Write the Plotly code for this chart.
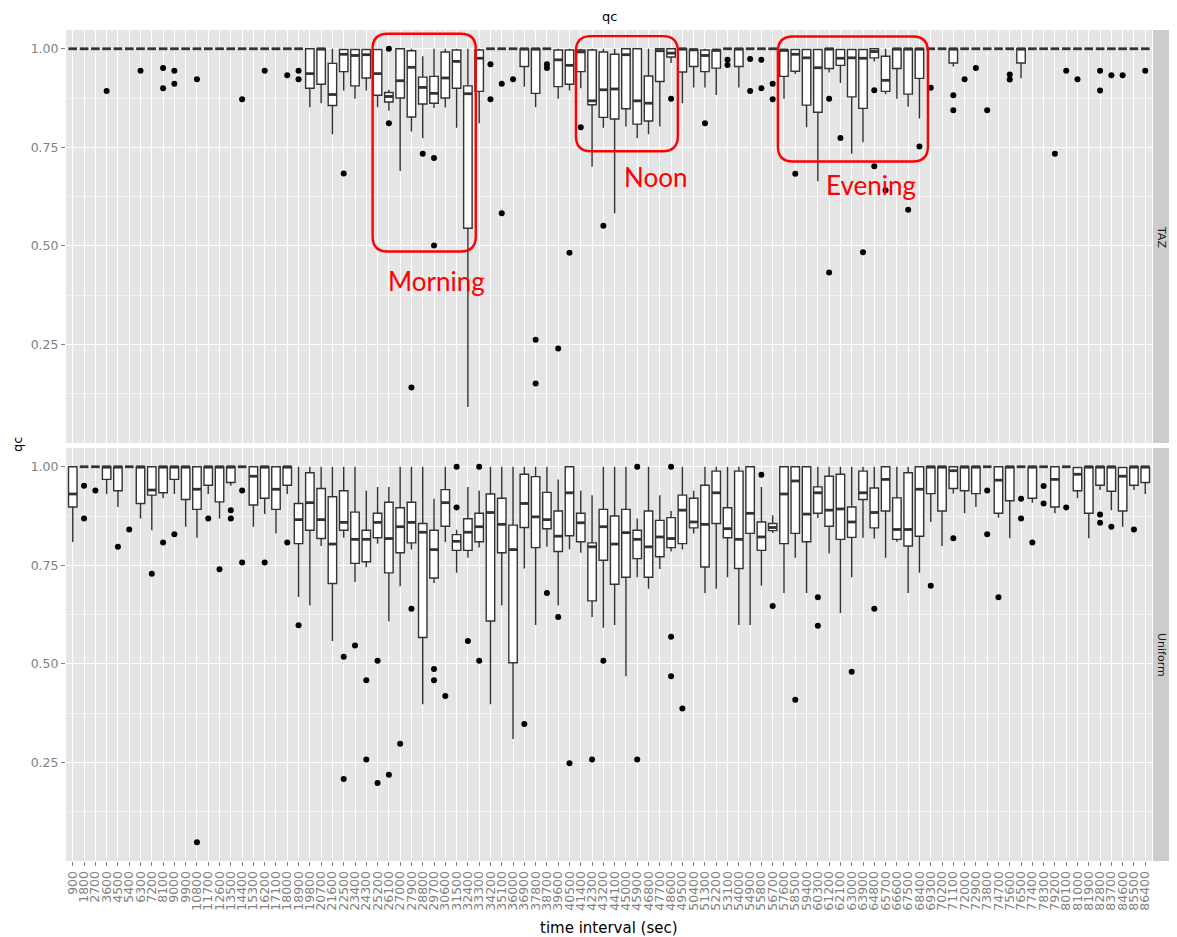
import plotly.graph_objects as go

# ---------------- data ----------------
time_labels = ["900", "1800", "2700", "3600", "4500", "5400", "6300", "7200", "8100", "9000", "9900", "10800",
               "11700", "12600", "13500", "14400", "15300", "16200", "17100", "18000", "18900", "19800", "20700", "21600",
               "22500", "23400", "24300", "25200", "26100", "27000", "27900", "28800", "29700", "30600", "31500", "32400",
               "33300", "34200", "35100", "36000", "36900", "37800", "38700", "39600", "40500", "41400", "42300", "43200",
               "44100", "45000", "45900", "46800", "47700", "48600", "49500", "50400", "51300", "52200", "53100", "54000",
               "54900", "55800", "56700", "57600", "58500", "59400", "60300", "61200", "62100", "63000", "63900", "64800",
               "65700", "66600", "67500", "68400", "69300", "70200", "71100", "72000", "72900", "73800", "74700", "75600",
               "76500", "77400", "78300", "79200", "80100", "81000", "81900", "82800", "83700", "84600", "85500", "86400"]

# ---- TAZ panel (box statistics per time interval) ----
taz_q1 = [1, 1, 1, 1, 1, 1, 1, 1, 1, 1, 1, 1,
          1, 1, 1, 1, 1, 1, 1, 1, 1, 0.900, 0.910, 0.856,
          0.942, 0.906, 0.926, 0.882, 0.865, 0.875, 0.827, 0.860, 0.862, 0.875, 0.900, 0.545,
          0.892, 1, 1, 1, 0.955, 0.887, 1, 0.904, 0.910, 0.942, 0.858, 0.826,
          0.822, 0.848, 0.809, 0.817, 0.917, 0.979, 0.941, 0.955, 0.942, 0.951, 1, 0.955,
          1, 1, 1, 0.930, 0.943, 0.857, 0.839, 0.950, 0.958, 0.878, 0.849, 0.977,
          0.892, 0.950, 0.885, 0.925, 1, 1, 0.964, 1, 1, 1, 1, 1,
          0.964, 1, 1, 1, 1, 1, 1, 1, 1, 1, 1, 1]
taz_med = [1, 1, 1, 1, 1, 1, 1, 1, 1, 1, 1, 1,
           1, 1, 1, 1, 1, 1, 1, 1, 1, 0.937, 1.0, 0.884,
           0.986, 0.983, 0.985, 0.937, 0.879, 0.919, 0.953, 0.902, 0.887, 0.926, 0.968, 0.886,
           0.976, 1, 1, 1, 1, 1, 1, 0.972, 0.958, 0.992, 0.868, 0.896,
           0.898, 0.985, 0.868, 0.862, 0.995, 0.989, 1, 0.998, 0.983, 0.997, 1, 1,
           1, 1, 1, 0.997, 0.986, 0.977, 0.952, 1, 0.976, 0.977, 0.976, 0.993,
           0.920, 1, 1, 1, 1, 1, 1, 1, 1, 1, 1, 1,
           1, 1, 1, 1, 1, 1, 1, 1, 1, 1, 1, 1]
taz_q3 = [1, 1, 1, 1, 1, 1, 1, 1, 1, 1, 1, 1,
          1, 1, 1, 1, 1, 1, 1, 1, 1, 1.0, 1.0, 0.963,
          0.998, 0.998, 0.998, 0.998, 0.889, 1.0, 0.995, 0.928, 0.930, 0.992, 0.997, 0.906,
          0.997, 1, 1, 1, 1, 1, 1, 0.997, 0.997, 0.997, 0.997, 0.992,
          0.986, 1, 1, 0.931, 1, 1, 1, 0.998, 0.997, 0.997, 1, 1,
          1, 1, 1, 0.997, 0.998, 0.998, 0.998, 1, 0.998, 0.998, 0.998, 1,
          0.981, 1, 1, 1, 1, 1, 1, 1, 1, 1, 1, 1,
          1, 1, 1, 1, 1, 1, 1, 1, 1, 1, 1, 1]
taz_lo = [1, 1, 1, 1, 1, 1, 1, 1, 1, 1, 1, 1,
          1, 1, 1, 1, 1, 1, 1, 1, 1, 0.852, 0.862, 0.783,
          0.894, 0.873, 0.894, 0.852, 0.843, 0.690, 0.790, 0.773, 0.850, 0.851, 0.800, 0.092,
          0.811, 1, 1, 1, 0.904, 0.852, 1, 0.873, 0.894, 0.900, 0.701, 0.800,
          0.583, 0.803, 0.773, 0.783, 0.803, 0.964, 0.862, 0.902, 0.902, 0.883, 1, 0.902,
          1, 1, 1, 0.873, 0.936, 0.801, 0.664, 0.940, 0.913, 0.734, 0.763, 0.968,
          0.885, 0.873, 0.853, 0.823, 1, 1, 0.955, 1, 1, 1, 1, 1,
          0.925, 1, 1, 1, 1, 1, 1, 1, 1, 1, 1, 1]
taz_hi = [1, 1, 1, 1, 1, 1, 1, 1, 1, 1, 1, 1,
          1, 1, 1, 1, 1, 1, 1, 1, 1, 1, 1, 1,
          1, 1, 1, 1, 0.896, 1, 1, 0.981, 1, 1, 1, 1,
          1, 1, 1, 1, 1, 1, 1, 1, 1, 1, 1, 1,
          1, 1, 1, 1, 1, 1, 1, 1, 1, 1, 1, 1,
          1, 1, 1, 1, 1, 1, 1, 1, 1, 1, 1, 1,
          1, 1, 1, 1, 1, 1, 1, 1, 1, 1, 1, 1,
          1, 1, 1, 1, 1, 1, 1, 1, 1, 1, 1, 1]
taz_out_x = ["3600", "6300", "8100", "8100", "9000", "9000", "10800", "14400", "16200", "18000", "18900", "18900",
             "22500", "26100", "26100", "27900", "28800", "29700", "29700", "34200", "34200", "35100", "35100", "36000",
             "37800", "37800", "38700", "38700", "39600", "40500", "41400", "43200", "48600", "51300", "53100", "53100",
             "54900", "54900", "55800", "55800", "56700", "56700", "58500", "61200", "61200", "62100", "63900", "64800",
             "64800", "65700", "67500", "68400", "69300", "71100", "71100", "72000", "72900", "73800", "75600", "75600",
             "79200", "80100", "81000", "82800", "82800", "83700", "84600", "86400"]
taz_out_y = [0.893, 0.944, 0.951, 0.900, 0.944, 0.911, 0.923, 0.872, 0.944, 0.933, 0.944, 0.923,
             0.684, 1.0, 0.811, 0.141, 0.734, 0.723, 0.501, 0.961, 0.872, 0.911, 0.583, 0.923,
             0.262, 0.151, 0.961, 0.951, 0.240, 0.483, 0.801, 0.551, 0.873, 0.811, 0.972, 0.959,
             0.974, 0.893, 0.972, 0.900, 0.911, 0.872, 0.683, 0.873, 0.433, 0.774, 0.484, 0.895,
             0.702, 0.641, 0.592, 0.752, 0.901, 0.882, 0.844, 0.923, 0.951, 0.844, 0.935, 0.922,
             0.734, 0.944, 0.923, 0.944, 0.894, 0.933, 0.933, 0.944]

# ---- Uniform panel ----
uni_q1 = [0.898, 1, 1, 0.968, 0.939, 1, 0.907, 0.928, 0.934, 0.968, 0.917, 0.892,
          0.953, 0.911, 0.960, 1, 0.903, 0.920, 0.892, 0.953, 0.805, 0.839, 0.818, 0.704,
          0.839, 0.755, 0.759, 0.820, 0.731, 0.782, 0.807, 0.567, 0.718, 0.849, 0.788, 0.788,
          0.810, 0.609, 0.782, 0.503, 0.846, 0.795, 0.843, 0.785, 0.825, 0.810, 0.660, 0.763,
          0.702, 0.720, 0.767, 0.720, 0.772, 0.795, 0.805, 0.845, 0.746, 0.856, 0.820, 0.742,
          0.831, 0.788, 0.838, 0.805, 0.831, 0.810, 0.882, 0.849, 0.816, 0.821, 0.917, 0.845,
          0.888, 0.816, 0.799, 0.824, 0.932, 0.888, 0.945, 0.939, 0.932, 1, 0.882, 0.914,
          1, 0.920, 1, 0.898, 1, 0.939, 0.882, 0.953, 0.938, 0.888, 0.953, 0.960]
uni_med = [0.931, 1, 1, 1, 1, 1, 1, 0.941, 1, 1, 1, 0.943,
           1, 1, 1, 1, 0.976, 1, 0.943, 1, 0.866, 0.909, 0.866, 0.804,
           0.859, 0.816, 0.816, 0.859, 0.818, 0.848, 0.859, 0.834, 0.790, 0.909, 0.811, 0.834,
           0.848, 0.884, 0.854, 0.790, 0.907, 0.873, 0.866, 0.824, 0.934, 0.858, 0.797, 0.848,
           0.804, 0.833, 0.816, 0.797, 0.822, 0.818, 0.890, 0.860, 0.854, 0.934, 0.843, 0.816,
           0.882, 0.822, 0.846, 0.931, 0.964, 0.880, 0.934, 0.890, 0.893, 0.860, 0.934, 0.884,
           0.968, 0.841, 0.841, 0.943, 1, 1, 0.990, 1, 1, 1, 0.966, 1,
           1, 1, 1, 0.968, 1, 0.981, 1, 1, 1, 0.976, 1, 1]
uni_q3 = [1, 1, 1, 1, 1, 1, 1, 1, 1, 1, 1, 1,
          1, 1, 1, 1, 1, 1, 1, 1, 0.907, 0.985, 0.945, 0.924,
          0.939, 0.885, 0.839, 0.882, 0.910, 0.896, 0.910, 0.856, 0.839, 0.942, 0.828, 0.868,
          0.882, 0.931, 0.920, 0.852, 0.981, 0.975, 0.935, 0.888, 1, 0.882, 0.807, 0.892,
          0.875, 0.892, 0.839, 0.888, 0.864, 0.871, 0.928, 0.920, 0.953, 0.989, 0.896, 0.989,
          1, 0.860, 0.856, 1, 1, 1, 0.949, 0.976, 0.981, 0.898, 0.989, 0.946,
          1, 0.921, 0.985, 1, 1, 1, 1, 1, 1, 1, 1, 1,
          1, 1, 1, 1, 1, 0.998, 1, 1, 1, 0.998, 1, 1]
uni_lo = [0.809, 1, 1, 0.931, 0.898, 1, 0.869, 0.839, 0.920, 0.931, 0.848, 0.820,
          0.931, 0.869, 0.952, 1, 0.848, 0.880, 0.831, 0.931, 0.670, 0.648, 0.799, 0.558,
          0.820, 0.708, 0.745, 0.805, 0.608, 0.697, 0.790, 0.398, 0.705, 0.809, 0.731, 0.769,
          0.795, 0.398, 0.648, 0.310, 0.742, 0.599, 0.797, 0.648, 0.791, 0.782, 0.619, 0.592,
          0.599, 0.469, 0.720, 0.691, 0.741, 0.785, 0.790, 0.831, 0.680, 0.691, 0.720, 0.599,
          0.599, 0.698, 0.832, 0.680, 0.769, 0.680, 0.870, 0.780, 0.629, 0.720, 0.820, 0.818,
          0.769, 0.810, 0.680, 0.731, 0.860, 0.799, 0.932, 0.882, 0.898, 1, 0.871, 0.819,
          1, 0.909, 1, 0.882, 1, 0.920, 0.819, 0.941, 0.890, 0.848, 0.941, 0.931]
uni_hi = [1, 1, 1, 1, 1, 1, 1, 1, 1, 1, 1, 1,
          1, 1, 1, 1, 1, 1, 1, 1, 1, 1, 1, 1,
          1, 1, 0.939, 0.949, 0.949, 1, 1, 1, 0.919, 1, 0.840, 0.949,
          0.939, 1, 1, 1, 1, 1, 1, 0.968, 1, 0.939, 0.928, 1,
          1, 1, 0.869, 1, 0.928, 0.888, 1, 0.939, 1, 1, 1, 1,
          1, 0.949, 0.877, 1, 1, 1, 1, 1, 1, 1, 1, 1,
          1, 1, 1, 1, 1, 1, 1, 1, 1, 1, 1, 1,
          1, 1, 1, 1, 1, 1, 1, 1, 1, 1, 1, 1]
uni_out_x = ["1800", "1800", "2700", "4500", "5400", "7200", "8100", "9000", "10800", "11700", "12600", "13500",
             "13500", "14400", "14400", "16200", "18000", "18900", "22500", "22500", "23400", "24300", "24300", "25200",
             "25200", "26100", "27000", "27900", "29700", "29700", "30600", "31500", "31500", "32400", "33300", "33300",
             "36900", "38700", "39600", "40500", "42300", "43200", "45900", "45900", "48600", "48600", "48600", "49500",
             "55800", "56700", "58500", "60300", "60300", "63000", "64800", "69300", "71100", "73800", "73800", "74700",
             "76500", "76500", "77400", "78300", "78300", "80100", "82800", "82800", "83700", "85500"]
uni_out_y = [0.952, 0.869, 0.940, 0.797, 0.841, 0.729, 0.808, 0.829, 0.048, 0.869, 0.740, 0.890,
             0.869, 0.940, 0.757, 0.757, 0.808, 0.598, 0.518, 0.208, 0.547, 0.459, 0.258, 0.508,
             0.198, 0.219, 0.298, 0.640, 0.487, 0.459, 0.419, 1.0, 0.897, 0.558, 1.0, 0.508,
             0.348, 0.680, 0.619, 0.248, 0.258, 0.508, 1.0, 0.258, 1.0, 0.569, 0.469, 0.387,
             0.980, 0.647, 0.409, 0.669, 0.597, 0.480, 0.640, 0.698, 0.819, 0.940, 0.829, 0.669,
             0.919, 0.869, 0.808, 0.951, 0.907, 0.897, 0.879, 0.858, 0.848, 0.841]

# Annotation boxes (in category index / qc units of the TAZ panel)
highlight_labels = ["Morning", "Noon", "Evening"]
highlight_x0 = [27.56, 45.57, 63.46]
highlight_x1 = [36.70, 54.60, 76.75]
highlight_y0 = [0.486, 0.740, 0.714]
highlight_y1 = [1.038, 1.032, 1.031]
highlight_tx = [33.2, 52.6, 71.7]
highlight_ty = [0.412, 0.675, 0.655]

# ---------------- figure ----------------
# The page body adds an 8 px offset; reference pixel positions are converted accordingly.
OFF = 8
W, H = 1177, 937
REF_L, REF_T, REF_R, REF_B = 66, 30, 1170, 861   # plot area in reference pixels (incl. strip)
ML, MT = REF_L - OFF, REF_T - OFF
MR = W - (REF_R - OFF)
MB = H - (REF_B - OFF)
PW = W - ML - MR
PH = H - MT - MB
XD = (1152 - REF_L) / PW
TOP_DOM = [0.503, 1.0]
BOT_DOM = [0.0, 0.497]

pos = list(range(1, len(time_labels) + 1))
idx = {lab: i + 1 for i, lab in enumerate(time_labels)}

BOX_LINE = "#333333"
BW = 0.75

fig = go.Figure()


def add_panel(q1, med, q3, lo, hi, ox, oy, xa, ya):
    fig.add_trace(go.Box(
        x=pos, q1=q1, median=med, q3=q3, lowerfence=lo, upperfence=hi,
        width=BW, whiskerwidth=0, fillcolor="white",
        line=dict(color=BOX_LINE, width=1.4), boxpoints=False,
        xaxis=xa, yaxis=ya, showlegend=False, hoverinfo="skip"))
    mx, my = [], []
    for p, m in zip(pos, med):
        mx += [p - BW / 2, p + BW / 2, None]
        my += [m, m, None]
    fig.add_trace(go.Scatter(x=mx, y=my, mode="lines",
                             line=dict(color=BOX_LINE, width=2.8),
                             xaxis=xa, yaxis=ya, showlegend=False, hoverinfo="skip"))
    fig.add_trace(go.Scatter(x=[idx[v] for v in ox], y=oy, mode="markers",
                             marker=dict(color="black", size=6),
                             xaxis=xa, yaxis=ya, showlegend=False, hoverinfo="skip"))


add_panel(taz_q1, taz_med, taz_q3, taz_lo, taz_hi, taz_out_x, taz_out_y, "x", "y")
add_panel(uni_q1, uni_med, uni_q3, uni_lo, uni_hi, uni_out_x, uni_out_y, "x2", "y2")

YR = [0.0004, 1.0476]
grid_major = dict(showgrid=True, gridcolor="white", gridwidth=1.1, zeroline=False, showline=False,
                  automargin=False)
minor_y = dict(tickvals=[0.125, 0.375, 0.625, 0.875], showgrid=True, gridcolor="#F2F2F2",
               gridwidth=0.6, ticks="")
tick_font = dict(family="DejaVu Sans", size=12.5, color="#7F7F7F")

xcommon = dict(range=[0.4, 96.6], tickmode="array", tickvals=pos, ticktext=time_labels,
               domain=[0, XD], fixedrange=True, **grid_major)
ycommon = dict(range=YR, tickmode="array", tickvals=[0.25, 0.5, 0.75, 1.0],
               ticktext=["0.25", "0.50", "0.75", "1.00"], ticks="outside", ticklen=4,
               tickcolor="#7F7F7F", tickwidth=1, tickfont=tick_font, minor=minor_y, **grid_major)

fig.update_layout(
    template="none",
    width=W, height=H, autosize=False,
    margin=dict(l=ML, r=MR, t=MT, b=MB, pad=0, autoexpand=False),
    paper_bgcolor="white", plot_bgcolor="#E5E5E5",
    showlegend=False, boxmode="overlay",
    xaxis=dict(anchor="y", showticklabels=False, ticks="", **xcommon),
    xaxis2=dict(anchor="y2", showticklabels=True, ticks="outside", ticklen=4, tickcolor="#7F7F7F",
                tickwidth=1, tickangle=-90, tickfont=tick_font, **xcommon),
    yaxis=dict(anchor="x", domain=TOP_DOM, **ycommon),
    yaxis2=dict(anchor="x2", domain=BOT_DOM, **ycommon),
)


def px_x(px):
    """reference x pixel -> paper coordinate"""
    return (px - REF_L) / PW


def px_y(py):
    """reference y pixel -> paper coordinate"""
    return (REF_B - py) / PH


shapes = []
# facet strips
for dom in (TOP_DOM, BOT_DOM):
    shapes.append(dict(type="rect", xref="paper", yref="paper", x0=px_x(1153), x1=1.0,
                       y0=dom[0], y1=dom[1], fillcolor="#CCCCCC", line=dict(width=0), layer="below"))
# red highlight boxes with rounded corners
rx, ry = 1.35, 0.038
for x0, x1, y0, y1 in zip(highlight_x0, highlight_x1, highlight_y0, highlight_y1):
    path = (f"M {x0 + rx},{y1} L {x1 - rx},{y1} Q {x1},{y1} {x1},{y1 - ry} "
            f"L {x1},{y0 + ry} Q {x1},{y0} {x1 - rx},{y0} "
            f"L {x0 + rx},{y0} Q {x0},{y0} {x0},{y0 + ry} "
            f"L {x0},{y1 - ry} Q {x0},{y1} {x0 + rx},{y1} Z")
    shapes.append(dict(type="path", xref="x", yref="y", path=path,
                       line=dict(color="#FF0000", width=2.4), layer="above"))
fig.update_layout(shapes=shapes)

CM = dict(xanchor="center", yanchor="middle", showarrow=False)
ann = []
for lab, tx, ty in zip(highlight_labels, highlight_tx, highlight_ty):
    ann.append(dict(x=tx, y=ty, xref="x", yref="y", text=lab,
                    font=dict(family="Lato", size=26, color="#FF0000"), **CM))
strip_x = (px_x(1153) + 1.0) / 2
ann.append(dict(x=strip_x, y=sum(TOP_DOM) / 2, xref="paper", yref="paper", text="TAZ",
                textangle=90, font=dict(family="DejaVu Sans", size=11, color="#1A1A1A"), **CM))
ann.append(dict(x=strip_x, y=sum(BOT_DOM) / 2, xref="paper", yref="paper", text="Uniform",
                textangle=90, font=dict(family="DejaVu Sans", size=11, color="#1A1A1A"), **CM))
ann.append(dict(x=XD / 2, y=px_y(17), xref="paper", yref="paper", text="qc",
                font=dict(family="DejaVu Sans", size=13, color="black"), **CM))
ann.append(dict(x=px_x(18), y=px_y(445), xref="paper", yref="paper", text="qc",
                textangle=-90, font=dict(family="DejaVu Sans", size=13, color="black"), **CM))
ann.append(dict(x=px_x(609), y=px_y(928), xref="paper", yref="paper",
                text="time interval (sec)",
                font=dict(family="DejaVu Sans", size=15, color="black"), **CM))
fig.update_layout(annotations=ann)

fig.write_html("out.html")
